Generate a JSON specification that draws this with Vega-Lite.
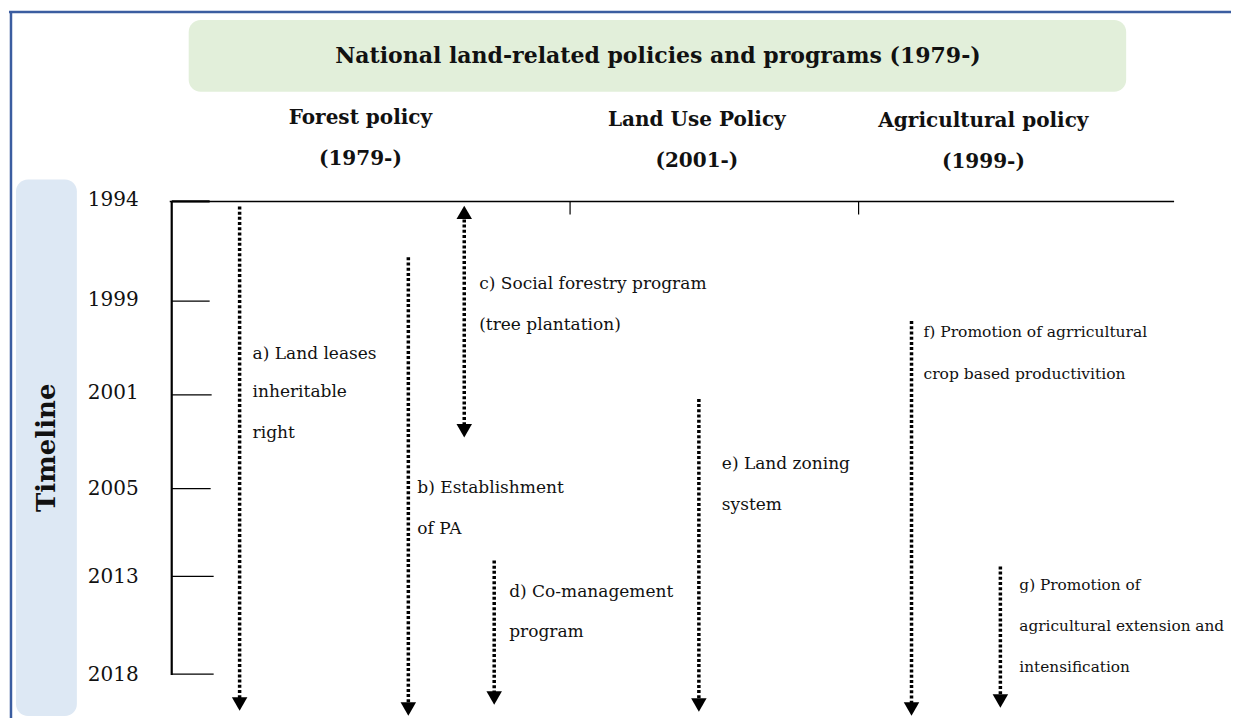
{
  "$schema": "https://vega.github.io/schema/vega-lite/v6.json",
  "width": 1233,
  "height": 720,
  "autosize": {"type": "fit", "contains": "padding"},
  "padding": 0,
  "background": "white",
  "config": {"view": {"stroke": null}},
  "datasets": {
    "frame": [
      {"x": 9, "y": 12, "x2": 1233, "y2": 12},
      {"x": 11, "y": 12, "x2": 11, "y2": 720}
    ],
    "boxes": [
      {"name": "title", "x": 189, "x2": 1128, "y": 20, "y2": 92},
      {"name": "timeline", "x": 16, "x2": 77, "y": 180, "y2": 718}
    ],
    "axisLines": [
      {"x": 170, "y": 202, "x2": 1176, "y2": 202, "w": 1.6},
      {"x": 571, "y": 202, "x2": 571, "y2": 215, "w": 1.2},
      {"x": 860, "y": 202, "x2": 860, "y2": 215, "w": 1.2},
      {"x": 172, "y": 202, "x2": 172, "y2": 677, "w": 2.2},
      {"x": 172, "y": 202, "x2": 210, "y2": 202, "w": 2.2},
      {"x": 172, "y": 302, "x2": 210, "y2": 302, "w": 1.4},
      {"x": 172, "y": 396, "x2": 212, "y2": 396, "w": 1.4},
      {"x": 172, "y": 490, "x2": 211, "y2": 490, "w": 1.4},
      {"x": 172, "y": 578, "x2": 214, "y2": 578, "w": 1.4},
      {"x": 172, "y": 676, "x2": 214, "y2": 676, "w": 1.4}
    ],
    "arrows": [
      {"id": "a", "x": 240, "y": 207, "y2": 700},
      {"id": "b", "x": 409, "y": 258, "y2": 705},
      {"id": "c", "x": 465, "y": 220, "y2": 426},
      {"id": "d", "x": 495, "y": 562, "y2": 694},
      {"id": "e", "x": 700, "y": 400, "y2": 701},
      {"id": "f", "x": 913, "y": 322, "y2": 705},
      {"id": "g", "x": 1002, "y": 568, "y2": 697}
    ],
    "heads": [
      {"id": "a", "x": 240, "y": 706, "dir": "triangle-down"},
      {"id": "b", "x": 409, "y": 711, "dir": "triangle-down"},
      {"id": "c", "x": 465, "y": 432, "dir": "triangle-down"},
      {"id": "c", "x": 465, "y": 213, "dir": "triangle-up"},
      {"id": "d", "x": 495, "y": 700, "dir": "triangle-down"},
      {"id": "e", "x": 700, "y": 707, "dir": "triangle-down"},
      {"id": "f", "x": 913, "y": 711, "dir": "triangle-down"},
      {"id": "g", "x": 1002, "y": 703, "dir": "triangle-down"}
    ],
    "bigText": [
      {"text": "National land-related policies and programs (1979-)", "x": 659, "y": 56, "size": 22},
      {"text": "Forest policy", "x": 361, "y": 118, "size": 20},
      {"text": "(1979-)", "x": 361, "y": 159, "size": 20},
      {"text": "Land Use Policy", "x": 698, "y": 120, "size": 20},
      {"text": "(2001-)", "x": 698, "y": 161, "size": 20},
      {"text": "Agricultural policy", "x": 985, "y": 121, "size": 20},
      {"text": "(1999-)", "x": 985, "y": 162, "size": 20}
    ],
    "years": [
      {"text": "1994", "x": 88, "y": 201},
      {"text": "1999", "x": 88, "y": 301},
      {"text": "2001", "x": 88, "y": 394},
      {"text": "2005", "x": 88, "y": 490},
      {"text": "2013", "x": 88, "y": 579},
      {"text": "2018", "x": 88, "y": 677}
    ],
    "labels": [
      {"text": "a) Land leases", "x": 253, "y": 355, "size": 17},
      {"text": "inheritable", "x": 253, "y": 393, "size": 17},
      {"text": "right", "x": 253, "y": 434, "size": 17},
      {"text": "c) Social forestry program", "x": 480, "y": 285, "size": 17},
      {"text": "(tree plantation)", "x": 480, "y": 326, "size": 17},
      {"text": "b) Establishment", "x": 418, "y": 489, "size": 17},
      {"text": "of PA", "x": 418, "y": 530, "size": 17},
      {"text": "e) Land zoning", "x": 723, "y": 465, "size": 17},
      {"text": "system", "x": 723, "y": 506, "size": 17},
      {"text": "d) Co-management", "x": 510, "y": 594, "size": 17},
      {"text": "program", "x": 510, "y": 634, "size": 17},
      {"text": "f) Promotion of agrricultural", "x": 925, "y": 333, "size": 15.5},
      {"text": "crop based productivition", "x": 925, "y": 375, "size": 15.5},
      {"text": "g) Promotion of", "x": 1021, "y": 587, "size": 15.3},
      {"text": "agricultural extension and", "x": 1021, "y": 628, "size": 15.3},
      {"text": "intensification", "x": 1021, "y": 669, "size": 15.3}
    ]
  },
  "encoding": {
    "x": {"field": "x", "type": "quantitative", "scale": {"domain": [0, 1233], "nice": false, "zero": false}, "axis": null},
    "y": {"field": "y", "type": "quantitative", "scale": {"domain": [0, 720], "nice": false, "zero": false, "reverse": true}, "axis": null}
  },
  "layer": [
    {
      "data": {"name": "boxes"},
      "mark": {"type": "rect", "cornerRadius": 12},
      "encoding": {
        "x2": {"field": "x2"},
        "y2": {"field": "y2"},
        "color": {"field": "name", "type": "nominal", "scale": {"domain": ["title", "timeline"], "range": ["#e2efda", "#dde8f4"]}, "legend": null}
      }
    },
    {
      "data": {"name": "frame"},
      "mark": {"type": "rule", "color": "#3b5da0", "strokeWidth": 2.5},
      "encoding": {"x2": {"field": "x2"}, "y2": {"field": "y2"}}
    },
    {
      "data": {"name": "axisLines"},
      "mark": {"type": "rule", "color": "#000000"},
      "encoding": {
        "x2": {"field": "x2"},
        "y2": {"field": "y2"},
        "strokeWidth": {"field": "w", "type": "quantitative", "scale": null}
      }
    },
    {
      "data": {"name": "arrows"},
      "mark": {"type": "rule", "color": "#000000", "strokeWidth": 3.5, "strokeDash": [3, 2.2]},
      "encoding": {"y2": {"field": "y2"}}
    },
    {
      "data": {"name": "heads"},
      "mark": {"type": "point", "filled": true, "color": "#000000", "opacity": 1, "size": 240},
      "encoding": {
        "shape": {"field": "dir", "type": "nominal", "scale": null}
      }
    },
    {
      "data": {"name": "bigText"},
      "mark": {"type": "text", "font": "DejaVu Serif", "fontWeight": "bold", "align": "center", "baseline": "middle", "color": "#111111"},
      "encoding": {
        "text": {"field": "text"},
        "size": {"field": "size", "type": "quantitative", "scale": null}
      }
    },
    {
      "data": {"name": "years"},
      "mark": {"type": "text", "font": "DejaVu Serif", "fontSize": 20, "align": "left", "baseline": "middle", "color": "#111111"},
      "encoding": {"text": {"field": "text"}}
    },
    {
      "data": {"values": [{"text": "Timeline", "x": 47, "y": 449}]},
      "mark": {"type": "text", "font": "DejaVu Serif", "fontWeight": "bold", "fontSize": 26, "angle": 270, "align": "center", "baseline": "middle", "color": "#111111"},
      "encoding": {"text": {"field": "text"}}
    },
    {
      "data": {"name": "labels"},
      "mark": {"type": "text", "font": "DejaVu Serif", "align": "left", "baseline": "middle", "color": "#111111"},
      "encoding": {
        "text": {"field": "text"},
        "size": {"field": "size", "type": "quantitative", "scale": null}
      }
    }
  ]
}
